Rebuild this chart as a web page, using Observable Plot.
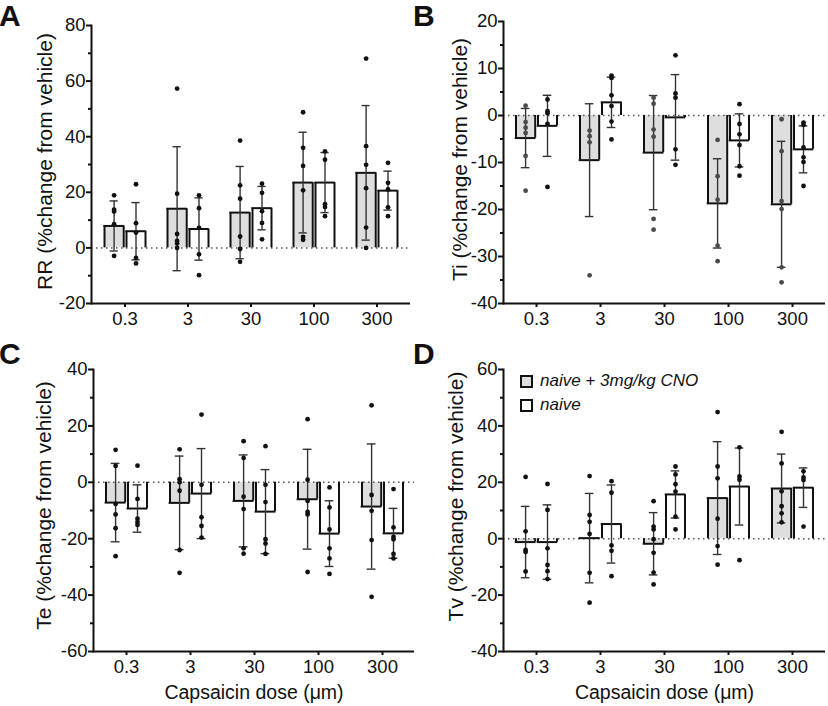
<!DOCTYPE html>
<html>
<head>
<meta charset="utf-8">
<script src="https://cdn.jsdelivr.net/npm/d3@7"></script>
<script src="https://cdn.jsdelivr.net/npm/@observablehq/plot@0.6"></script>
<style>
  body { margin: 0; background: #fff; }
  #fig { position: relative; width: 828px; height: 706px; font-family: "Liberation Sans", Arial, sans-serif; color: #111; overflow: hidden; }
  .panel { position: absolute; }
  .panel svg { overflow: visible; }
  .letter { position: absolute; font-weight: bold; font-size: 30px; line-height: 1; }
  .legend { position: absolute; font-style: italic; font-size: 17px; }
  .legend .row { height: 24px; line-height: 24px; display: flex; align-items: center; white-space: nowrap; }
  .legend .sw { display: inline-block; box-sizing: border-box; width: 13px; height: 13px; border: 2px solid #111; margin-right: 7px; }
</style>
</head>
<body>
<div id="fig">
  <div class="panel" id="pA" style="left:0px;top:0px"></div>
  <div class="panel" id="pB" style="left:414px;top:0px"></div>
  <div class="panel" id="pC" style="left:0px;top:330px"></div>
  <div class="panel" id="pD" style="left:414px;top:330px"></div>
  <div class="letter" style="left:-1px;top:1px">A</div>
  <div class="letter" style="left:413px;top:1px">B</div>
  <div class="letter" style="left:-1px;top:339px">C</div>
  <div class="letter" style="left:413px;top:339px">D</div>
  <div class="legend" style="left:520px;top:369px">
    <div class="row"><span class="sw" style="background:#dedede"></span>naive + 3mg/kg CNO</div>
    <div class="row"><span class="sw" style="background:#fff"></span>naive</div>
  </div>
</div>
<script>
// ---------- data ----------
const doses = ["0.3", "3", "30", "100", "300"];
const xTitle = "Capsaicin dose (\u03bcm)";

// A: RR
const rrCnoMean = [7.9, 14.1, 12.7, 23.5, 27.0];
const rrCnoSD = [9.0, 22.3, 16.6, 18.1, 24.2];
const rrNaiveMean = [6.0, 6.8, 14.3, 23.5, 20.6];
const rrNaiveSD = [10.3, 11.2, 7.8, 10.8, 7.0];
const rrCnoPts = [[18.9, 13.8, 13.1, 8.5, -2.9], [57.3, 19.5, 5.0, 2.5, 1.6, 0], [38.6, 22.5, 17.7, 4.1, -0.4, -5.0], [48.8, 36.0, 29.5, 20.7, 4.0, 2.9], [68.1, 36.6, 29.9, 21.5, 7.3, 0]];
const rrNaivePts = [[22.9, 8.9, 5.5, -3.6, -5.6], [18.9, 14.3, 7.2, -2.3, -9.8], [23.1, 19.8, 13.2, 9.0, 3.1], [34.7, 31.7, 15.7, 14.7, 11.4], [30.6, 23.4, 21.0, 14.6, 11.4]];

// B: Ti
const tiCnoMean = [-4.8, -9.5, -7.9, -18.7, -18.9];
const tiCnoSD = [6.3, 12.0, 12.15, 9.5, 13.4];
const tiNaiveMean = [-2.2, 2.8, -0.4, -5.3, -7.2];
const tiNaiveSD = [6.5, 5.35, 9.1, 5.65, 5.0];
const tiCnoPts = [[2.1, -1.4, -2.6, -3.7, -8.6, -16.0], [-3.2, -4.4, -5.7, -34.0], [3.8, 2.5, -3.0, -4.5, -22.0, -24.3], [-5.2, -12.9, -17.9, -27.7, -31.0], [-0.8, -7.6, -18.2, -19.9, -32.3, -35.5]];
const tiNaivePts = [[3.4, 0.9, 0.5, -1.8, -15.2], [8.5, 8.0, 4.3, 2.0, -1.3, -5.1], [12.8, 4.7, 3.8, -7.2, -10.5], [2.4, -1.8, -4.0, -6.3, -10.8, -12.8], [-1.5, -2.0, -6.8, -8.9, -9.9, -15.0]];

// C: Te
const teCnoMean = [-7.2, -7.3, -6.6, -6.0, -8.6];
const teCnoSD = [13.9, 16.6, 16.3, 17.7, 22.2];
const teNaiveMean = [-9.3, -4.0, -10.4, -18.2, -18.1];
const teNaiveSD = [8.4, 15.95, 14.9, 11.65, 8.85];
const teCnoPts = [[11.5, 5.8, -7.7, -11.4, -16.3, -26.2], [11.7, 1.1, 0, -3.0, -24.0, -32.1], [14.6, 8.6, -5.1, -9.5, -23.4, -25.3], [22.4, 0.9, -6.6, -10.5, -11.4, -31.8], [27.3, -4.5, -10.1, -20.5, -40.6]];
const teNaivePts = [[5.9, -5.9, -12.9, -14.1, -15.1], [24.0, -0.9, -12.4, -15.5, -19.6], [12.8, -0.9, -7.0, -20.2, -21.7, -25.4], [-1.8, -8.9, -16.7, -23.4, -27.0, -32.5], [-2.4, -16.0, -19.4, -20.2, -25.4, -27.0]];

// D: Tv
const tvCnoMean = [-1.2, 0.2, -1.8, 14.4, 17.8];
const tvCnoSD = [12.65, 15.85, 11.05, 20.0, 12.2];
const tvNaiveMean = [-1.2, 5.2, 15.7, 18.5, 18.1];
const tvNaiveSD = [13.2, 13.85, 8.35, 13.65, 7.0];
const tvCnoPts = [[21.9, 2.6, -4.0, -4.7, -11.6], [22.2, 8.4, 6.0, 1.7, -12.1, -22.7], [13.3, 4.3, 3.3, -0.2, -5.0, -12.0, -16.2], [44.9, 25.6, 21.4, 7.1, -2.6, -9.2], [37.9, 26.7, 16.8, 11.5, 9.0, 5.8]];
const tvNaivePts = [[19.4, 10.2, -3.4, -9.3, -11.5, -14.3], [20.4, 16.3, -2.4, -4.3, -13.3], [25.6, 22.8, 19.3, 16.7, 7.8, 3.3], [32.4, 22.1, 20.9, -7.6], [23.9, 21.7, 20.8, 4.3]];

// ---------- drawing ----------
const INK = "#111";
function drawPanel(cfg) {
  const {width, height, ml, mr, mt, mb} = cfg;
  const step = (width - ml - mr) / doses.length;
  const groups = [
    {mean: cfg.cnoMean, sd: cfg.cnoSD, pts: cfg.cnoPts, fill: "#dedede", dot: cfg.cnoDot || INK, l: -20.5, r: -1.3},
    {mean: cfg.naiveMean, sd: cfg.naiveSD, pts: cfg.naivePts, fill: "#ffffff", dot: INK, l: 1.5, r: 20.5}
  ];
  const fills = [], outlines = [], errs = [], dots = [];
  for (const g of groups) {
    const rows = doses.map((dose, i) => ({dose, mean: g.mean[i], lo: g.mean[i] - g.sd[i], hi: g.mean[i] + g.sd[i]}));
    const pts = doses.flatMap((dose, i) => g.pts[i].map(v => ({dose, v})));
    const c = (g.l + g.r) / 2;
    const il = step / 2 + g.l, ir = step / 2 - g.r;
    const cap = 4.5;
    fills.push(Plot.barY(rows, {x: "dose", y1: 0, y2: "mean", fill: g.fill, insetLeft: il, insetRight: ir}));
    outlines.push(
      Plot.ruleX(rows, {x: "dose", y1: 0, y2: "mean", dx: g.l, stroke: INK, strokeWidth: 2}),
      Plot.ruleX(rows, {x: "dose", y1: 0, y2: "mean", dx: g.r, stroke: INK, strokeWidth: 2}),
      Plot.tickY(rows, {x: "dose", y: "mean", insetLeft: il - 1, insetRight: ir - 1, stroke: INK, strokeWidth: 2})
    );
    errs.push(
      Plot.ruleX(rows, {x: "dose", y1: "lo", y2: "hi", dx: c, stroke: "#333", strokeWidth: 1.4}),
      Plot.tickY(rows, {x: "dose", y: "hi", insetLeft: step / 2 + c - cap, insetRight: step / 2 - c - cap, stroke: "#333", strokeWidth: 1.4}),
      Plot.tickY(rows, {x: "dose", y: "lo", insetLeft: step / 2 + c - cap, insetRight: step / 2 - c - cap, stroke: "#333", strokeWidth: 1.4})
    );
    dots.push(Plot.dot(pts, {x: "dose", y: "v", dx: c, r: 2.4, fill: g.dot}));
  }
  const fmt = d => String(d);
  const marks = [
    ...fills,
    Plot.ruleY([0], {stroke: "#555", strokeWidth: 1.5, strokeDasharray: "1.5,3.5"}),
    ...outlines,
    ...errs,
    ...dots,
    Plot.axisY({ticks: cfg.yTicks, tickFormat: fmt, tickSize: 5, tickPadding: 1, strokeWidth: 2, stroke: INK, fill: INK, label: null, fontSize: 18.5}),
    Plot.axisY({ticks: cfg.yMinor, tickSize: 3, strokeWidth: 2, stroke: INK, fill: "none", label: null}),
    Plot.axisX({tickSize: 4, tickPadding: 4, strokeWidth: 2, stroke: INK, fill: INK, label: null, fontSize: 18.5}),
    Plot.ruleY([cfg.yDomain[0]], {stroke: INK, strokeWidth: 2}),
    Plot.frame({anchor: "left", stroke: INK, strokeWidth: 2}),
    Plot.text([cfg.ylabel], {text: d => d, frameAnchor: "left", textAnchor: "middle", lineAnchor: "middle", rotate: -90, dx: cfg.ldx, dy: cfg.ldy, fontSize: 21, fill: INK})
  ];
  if (cfg.xlabel) marks.push(Plot.text([cfg.xlabel], {text: d => d, frameAnchor: "bottom", textAnchor: "middle", lineAnchor: "middle", dy: 41, fontSize: 19.5, fill: INK}));
  const svg = Plot.plot({
    width, height, marginLeft: ml, marginRight: mr, marginTop: mt, marginBottom: mb,
    x: {type: "band", domain: doses, padding: 0},
    y: {domain: cfg.yDomain},
    style: {fontFamily: '"Liberation Sans", Arial, sans-serif', color: INK, background: "transparent", overflow: "visible"},
    marks
  });
  document.getElementById(cfg.el).appendChild(svg);
}

drawPanel({el: "pA", width: 414, height: 330, ml: 91, mr: 4, mt: 25, mb: 27,
  yDomain: [-20, 80], yTicks: [-20, 0, 20, 40, 60, 80], yMinor: [-10, 10, 30, 50, 70],
  ylabel: "RR (%change from vehicle)", ldx: -46, ldy: -3,
  cnoMean: rrCnoMean, cnoSD: rrCnoSD, naiveMean: rrNaiveMean, naiveSD: rrNaiveSD, cnoPts: rrCnoPts, naivePts: rrNaivePts});

drawPanel({el: "pB", width: 414, height: 330, ml: 89, mr: 3, mt: 21, mb: 27,
  yDomain: [-40, 20], yTicks: [-40, -30, -20, -10, 0, 10, 20], yMinor: [-35, -25, -15, -5, 5, 15],
  ylabel: "Ti (%change from vehicle)", ldx: -43, ldy: -3, cnoDot: "#4a4a4a",
  cnoMean: tiCnoMean, cnoSD: tiCnoSD, naiveMean: tiNaiveMean, naiveSD: tiNaiveSD, cnoPts: tiCnoPts, naivePts: tiNaivePts});

drawPanel({el: "pC", width: 414, height: 376, ml: 93, mr: 0, mt: 39, mb: 55,
  yDomain: [-60, 40], yTicks: [-60, -40, -20, 0, 20, 40], yMinor: [-50, -30, -10, 10, 30],
  ylabel: "Te (%change from vehicle)", ldx: -49, ldy: -5, xlabel: xTitle,
  cnoMean: teCnoMean, cnoSD: teCnoSD, naiveMean: teNaiveMean, naiveSD: teNaiveSD, cnoPts: teCnoPts, naivePts: teNaivePts});

drawPanel({el: "pD", width: 414, height: 376, ml: 89, mr: 3, mt: 39, mb: 55,
  yDomain: [-40, 60], yTicks: [-40, -20, 0, 20, 40, 60], yMinor: [-30, -10, 10, 30, 50],
  ylabel: "Tv (%change from vehicle)", ldx: -47, ldy: -14, xlabel: xTitle,
  cnoMean: tvCnoMean, cnoSD: tvCnoSD, naiveMean: tvNaiveMean, naiveSD: tvNaiveSD, cnoPts: tvCnoPts, naivePts: tvNaivePts});
</script>
</body>
</html>
